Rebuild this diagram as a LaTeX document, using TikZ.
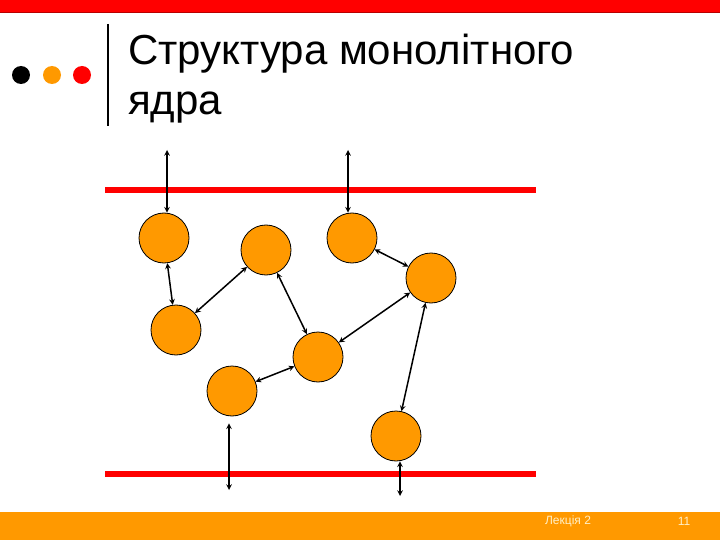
\documentclass[tikz,border=0pt]{standalone}
\usepackage{fontspec}
\setmainfont{Liberation Sans}
\usetikzlibrary{arrows, positioning}
\definecolor{slideorange}{HTML}{FF9900}
\definecolor{slidered}{HTML}{FF0000}
\definecolor{darkred}{HTML}{B80000}
\definecolor{footertext}{HTML}{FFF0C8}

\tikzset{
  module/.style={circle, draw=black, fill=slideorange, minimum size=50pt, inner sep=0pt, line width=0.8pt},
  link/.style={<->, >=stealth, line width=1.5pt},
  wall/.style={slidered, line width=6pt},
  titletext/.style={anchor=base west, inner sep=0pt, font=\fontsize{42}{50}\selectfont},
  footnote/.style={inner sep=0pt, text=footertext, font=\fontsize{12}{14}\selectfont},
}

\begin{document}
\begin{tikzpicture}[x=1pt, y=-1pt]
\useasboundingbox (0,0) rectangle (720,540);
% Header
\fill[slidered] (0,0) rectangle (720,13);
\draw[darkred, line width=1pt] (0,13) -- (720,13);
\fill[black] (21,75) circle (9pt);
\fill[slideorange] (52,75) circle (9pt);
\fill[slidered] (82,75) circle (9pt);
\draw[line width=2pt] (108,24) -- (108,126);
\node[titletext] (title) at (128,65) {Структура монолітного};
\node[titletext] (title2) at (128,115) {ядра};

% Kernel boundaries
\draw[wall] (105,190.5) -- (536,190.5);
\draw[wall] (105,474) -- (536,474);

% Modules
\node[module] (c1) at (164,238) {};
\node[module] (c2) at (266,250) {};
\node[module] (c3) at (352,238) {};
\node[module] (c4) at (431,278) {};
\node[module] (c5) at (176,330) {};
\node[module] (c6) at (318,357) {};
\node[module] (c7) at (232,391) {};
\node[module] (c8) at (396,436) {};

\coordinate (t1) at (167,150);
\coordinate (t3) at (348,150);
\coordinate (b7) at (229,490);
\coordinate (b8) at (400,496);

% Calls
\draw[link] (t1) -- (t1 |- c1.north);
\draw[link] (t3) -- (t3 |- c3.north);
\draw[link] (c1) -- (c5);
\draw[link] (c5) -- (c2);
\draw[link] (c2) -- (c6);
\draw[link] (c3) -- (c4);
\draw[link] (c4) -- (c6);
\draw[link] (c4) -- (c8);
\draw[link] (c7) -- (c6);
\draw[link] ([yshift=-7pt]b7 |- c7.south) -- (b7);
\draw[link] (b8 |- c8.south) -- (b8);

% Footer
\fill[slideorange] (0,512) rectangle (720,540);
\node[footnote] (lecture) at (568,521) {Лекція 2};
\node[footnote] (page) at (684,521) {11};
\end{tikzpicture}
\end{document}
